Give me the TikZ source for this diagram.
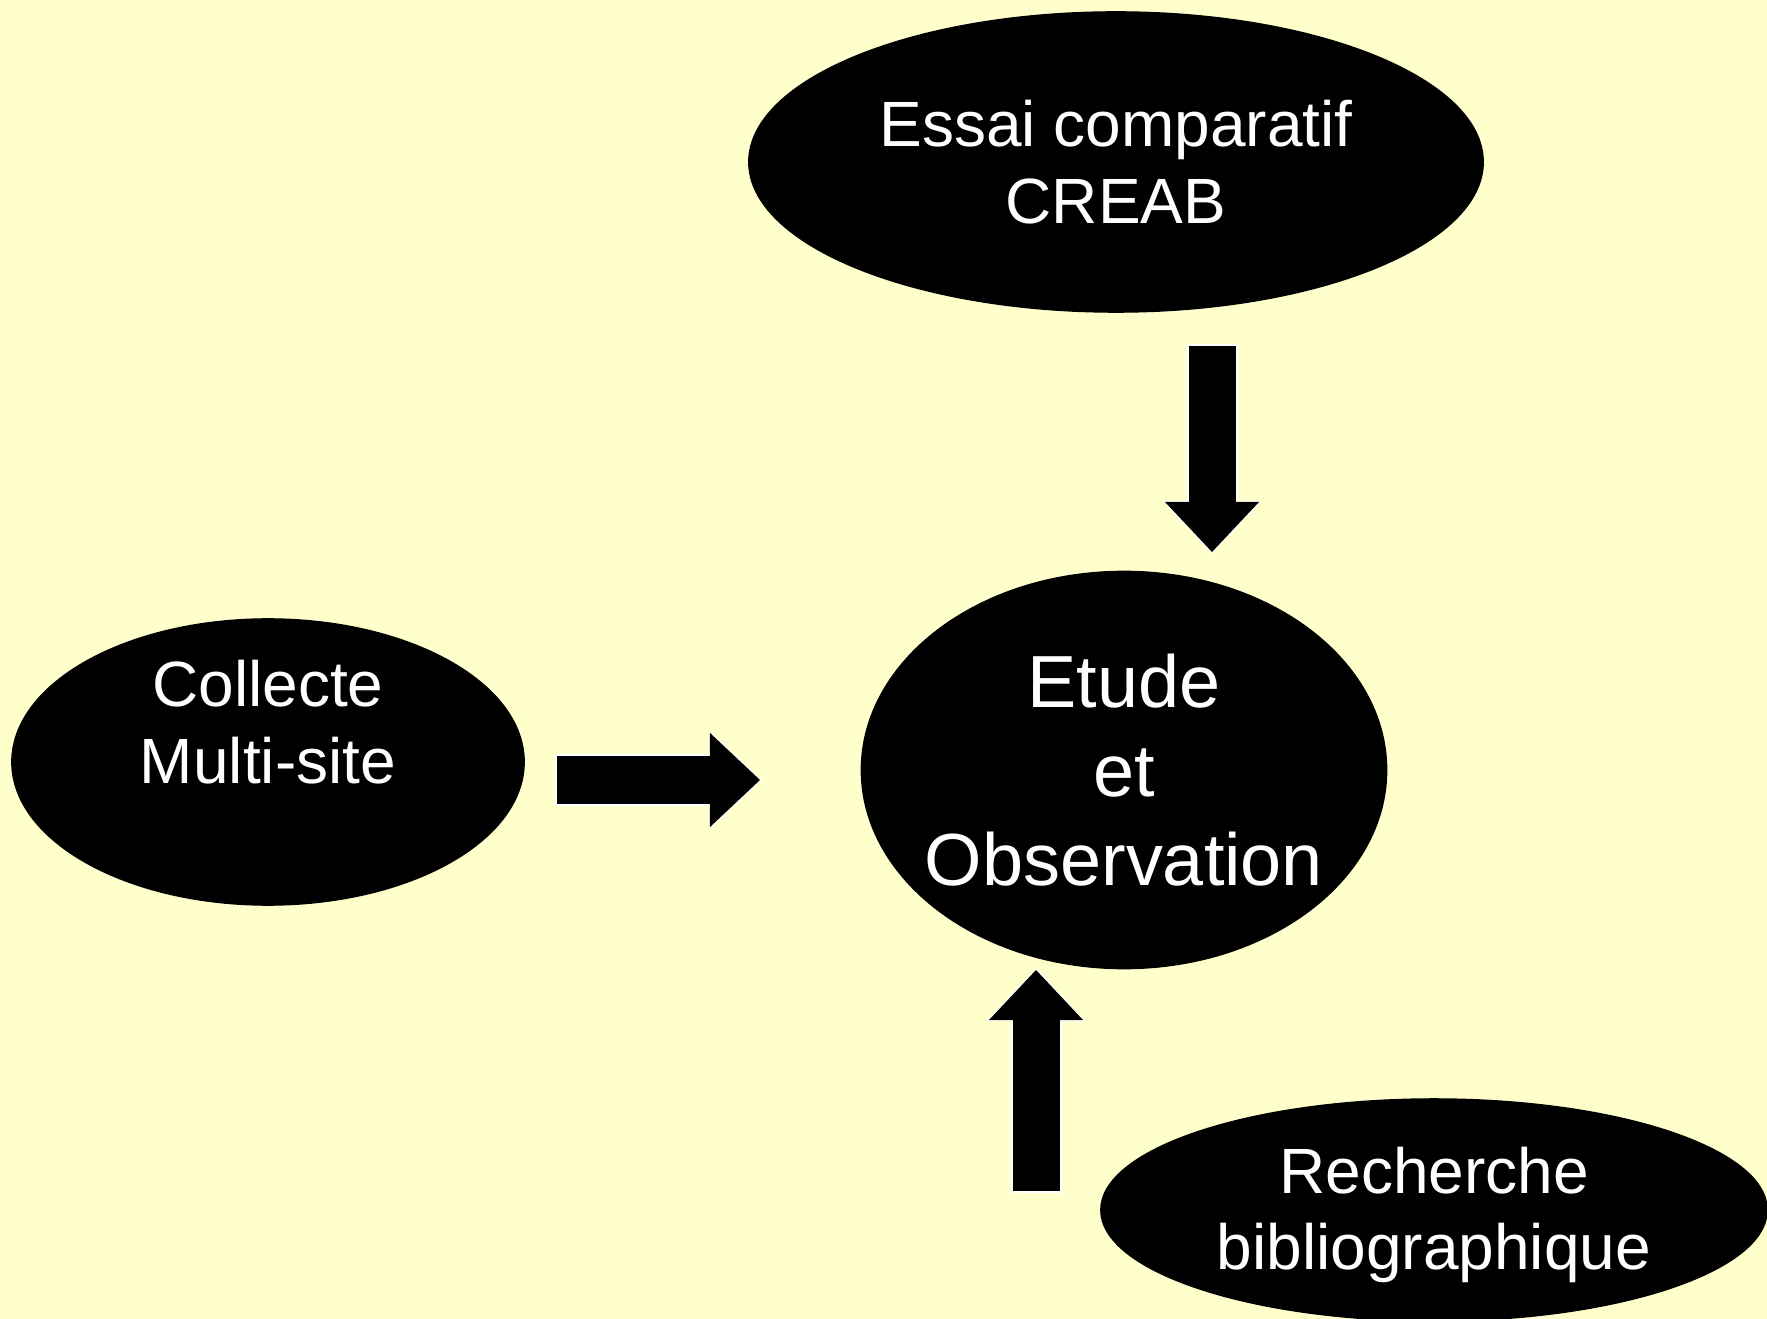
\documentclass[tikz,border=0pt]{standalone}
\usepackage{fontspec}
\setmainfont{Liberation Sans}
\usetikzlibrary{shapes.geometric, arrows.meta, positioning}
\definecolor{paper}{RGB}{255,255,204}

\begin{document}
\begin{tikzpicture}[
        x=0.01cm, y=-0.01cm,
        blob/.style={
            ellipse, fill=black, draw=black, inner sep=0pt
        },
        blobtext/.style={
            text=white, align=center, inner sep=0pt,
            font=\fontsize{18.2}{21.8}\selectfont
        },
        bigtext/.style={
            blobtext, font=\fontsize{21}{25.2}\selectfont
        },
        bigarrow/.style={
            draw=black, line width=0.47cm,
            -{Triangle[width=0.94cm, length=0.5cm, line width=0pt]},
            preaction={draw=white, line width=0.51cm,
                -{Triangle[width=0.99cm, length=0.53cm, line width=0pt]},
                shorten >=-0.02cm, shorten <=-0.02cm}
        }
    ]
        % ----------------------------------------------------
        % Page
        % ----------------------------------------------------
        \fill[paper] (0,0) rectangle (1767,1319);
        \useasboundingbox (0,0) rectangle (1767,1319);

        % ----------------------------------------------------
        % Ellipses
        % ----------------------------------------------------
        \node[blob, minimum width=7.34cm, minimum height=3cm] (creab) at (1116,162) {};
        \node[blobtext] (creab-txt) at (creab) {Essai comparatif\\CREAB};

        \node[blob, minimum width=5.25cm, minimum height=3.97cm] (etude) at (1124,770) {};
        \node[bigtext] (etude-txt) at (etude) {Etude\\et\\Observation};

        \node[blob, minimum width=5.12cm, minimum height=2.86cm] (collecte) at (268,762) {};
        \node[blobtext, yshift=0.4cm] (collecte-txt) at (collecte) {Collecte\\Multi-site};

        \node[blob, minimum width=6.66cm, minimum height=2.22cm] (biblio) at (1434,1210) {};
        \node[blobtext, yshift=-0.05cm] (biblio-txt) at (biblio) {Recherche\\bibliographique};

        % ----------------------------------------------------
        % Block arrows into the centre
        % ----------------------------------------------------
        \coordinate (creab-out) at (1212,346);
        \coordinate (etude-in-top) at (1212,552);
        \coordinate (collecte-out) at (557,780);
        \coordinate (etude-in-left) at (760,780);
        \coordinate (biblio-out) at (1036,1191);
        \coordinate (etude-in-bottom) at (1036,970);

        \draw[bigarrow] (creab-out) -- (etude-in-top);
        \draw[bigarrow] (collecte-out) -- (etude-in-left);
        \draw[bigarrow] (biblio-out) -- (etude-in-bottom);

    \end{tikzpicture}
\end{document}
